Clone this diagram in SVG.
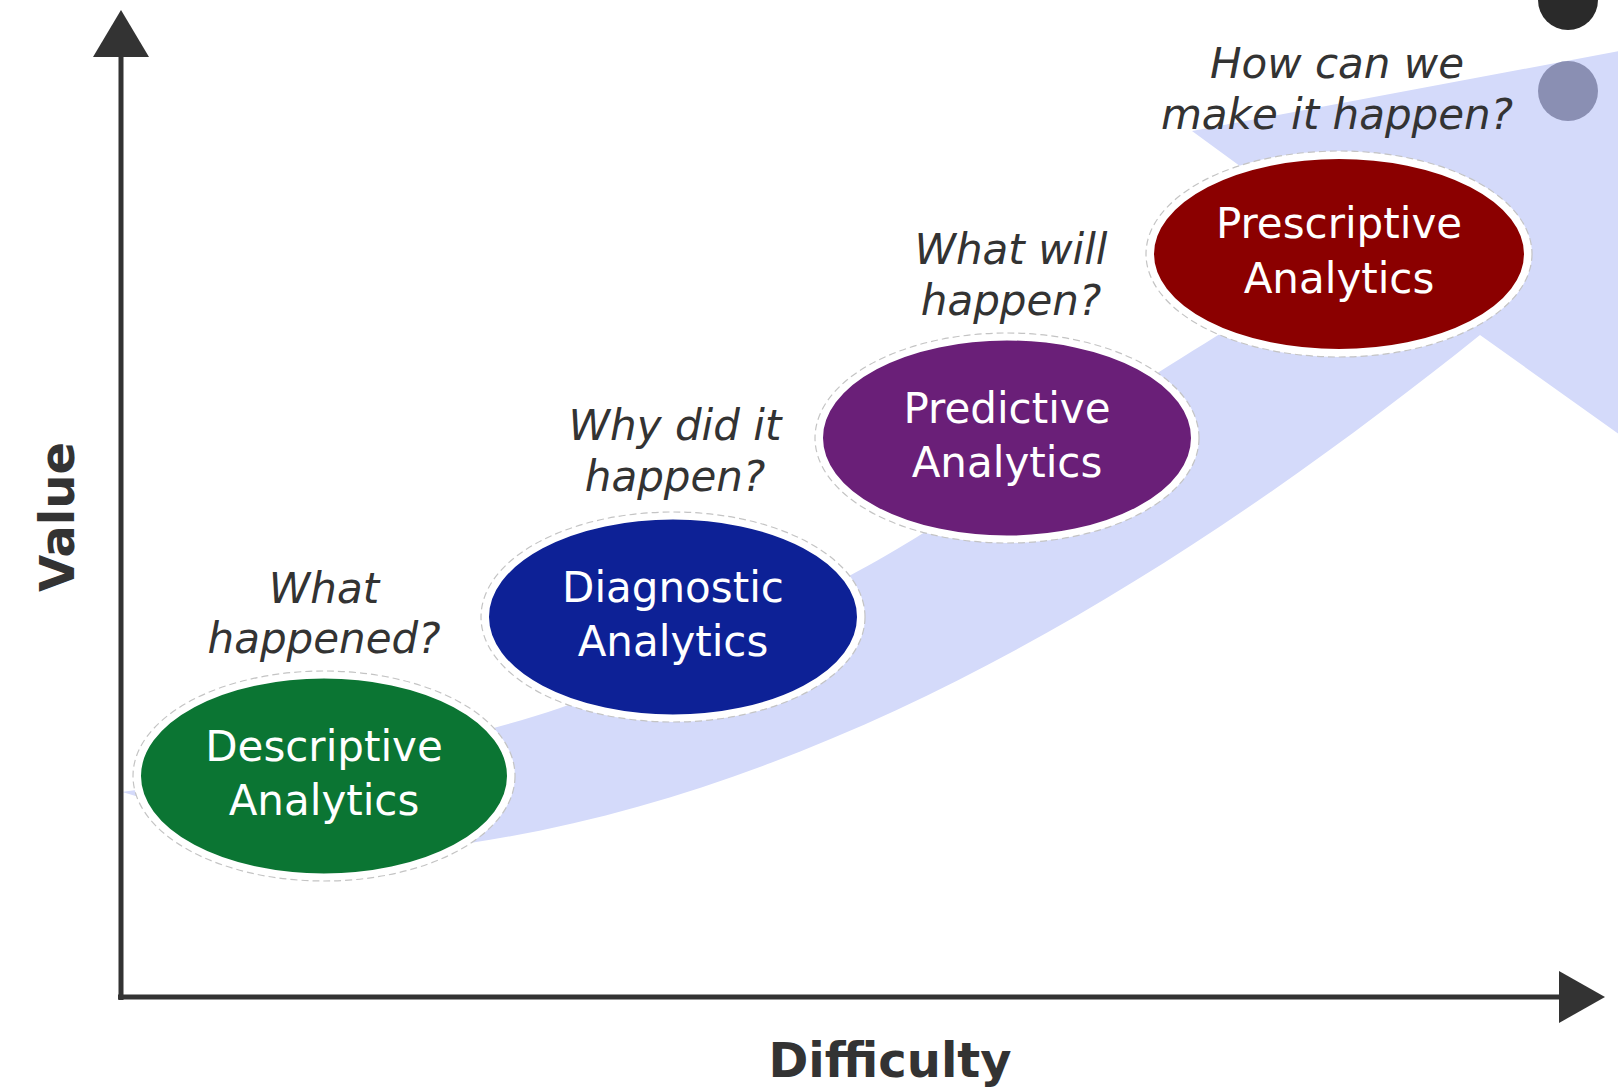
<svg xmlns="http://www.w3.org/2000/svg" width="1618" height="1092" viewBox="0 0 1618 1092">
<style>
.halo{fill:#ffffff;stroke:#c4c4c4;stroke-width:1.2;stroke-dasharray:7 4}
.node-label{font-family:"DejaVu Sans","Liberation Sans",sans-serif;font-size:42px;fill:#ffffff;text-anchor:middle}
.question{font-family:"DejaVu Sans","Liberation Sans",sans-serif;font-size:42px;font-style:italic;fill:#333333;text-anchor:middle}
.axis-label{font-family:"DejaVu Sans","Liberation Sans",sans-serif;font-size:48px;font-weight:bold;fill:#333333;text-anchor:middle}
.axis{stroke:#333333;stroke-width:5;fill:none}
.arrowhead{fill:#333333}
</style>
<rect x="0" y="0" width="1618" height="1092" fill="#ffffff"/>
<g id="band">
<path fill="#d4dafa" d="M122,792 C159,786 257.5,778.7 330,765 C402.5,751.3 488.3,732.2 560,708 C631.7,683.8 700.5,648.5 760,620 C819.5,591.5 860.3,572 917,537 C973.7,502 1027,457.8 1100,410 C1173,362.2 1312.5,276.7 1355,250 L1192,131 L1700,36 L1700,492 L1480,335 C1230,535 870,783 470,843 C380,856 200,815 122,792 Z"/>
</g>
<g id="axes">
<line class="axis" x1="121" y1="50" x2="121" y2="1000"/>
<polygon class="arrowhead" points="121,10 93,57 149,57"/>
<line class="axis" x1="118" y1="997" x2="1565" y2="997"/>
<polygon class="arrowhead" points="1605,997 1559,971 1559,1023"/>
<text class="axis-label" x="890" y="1077">Difficulty</text>
<text class="axis-label" transform="translate(74,517) rotate(-90)">Value</text>
</g>
<g id="connectors"></g>
<g id="descriptive">
<ellipse class="halo" cx="324" cy="776" rx="191" ry="105"/>
<ellipse cx="324" cy="776" rx="184" ry="98.5" fill="#0b7533" stroke="#ffffff" stroke-width="2"/>
<text class="node-label" x="324" y="761">Descriptive</text>
<text class="node-label" x="324" y="815">Analytics</text>
</g>
<g id="diagnostic">
<ellipse class="halo" cx="673" cy="617" rx="192" ry="105"/>
<ellipse cx="673" cy="617" rx="185" ry="98.5" fill="#0d2196" stroke="#ffffff" stroke-width="2"/>
<text class="node-label" x="673" y="602">Diagnostic</text>
<text class="node-label" x="673" y="656">Analytics</text>
</g>
<g id="predictive">
<ellipse class="halo" cx="1007" cy="438" rx="192" ry="105"/>
<ellipse cx="1007" cy="438" rx="185" ry="98.5" fill="#6a1f78" stroke="#ffffff" stroke-width="2"/>
<text class="node-label" x="1007" y="423">Predictive</text>
<text class="node-label" x="1007" y="477">Analytics</text>
</g>
<g id="prescriptive">
<ellipse class="halo" cx="1339" cy="254" rx="193" ry="103"/>
<ellipse cx="1339" cy="254" rx="186" ry="96" fill="#8b0000" stroke="#ffffff" stroke-width="2"/>
<text class="node-label" x="1339" y="238">Prescriptive</text>
<text class="node-label" x="1339" y="293">Analytics</text>
</g>
<g id="questions">
<text class="question" x="324" y="603">What</text>
<text class="question" x="324" y="653">happened?</text>
<text class="question" x="675" y="440">Why did it</text>
<text class="question" x="675" y="491">happen?</text>
<text class="question" x="1011" y="264">What will</text>
<text class="question" x="1011" y="315">happen?</text>
<text class="question" x="1337" y="78">How can we</text>
<text class="question" x="1337" y="129">make it happen?</text>
</g>
<g id="corner-dots">
<circle cx="1568" cy="0" r="30" fill="#2a2a2a"/>
<circle cx="1568" cy="91" r="30" fill="#8a8fb3"/>
</g>
</svg>
